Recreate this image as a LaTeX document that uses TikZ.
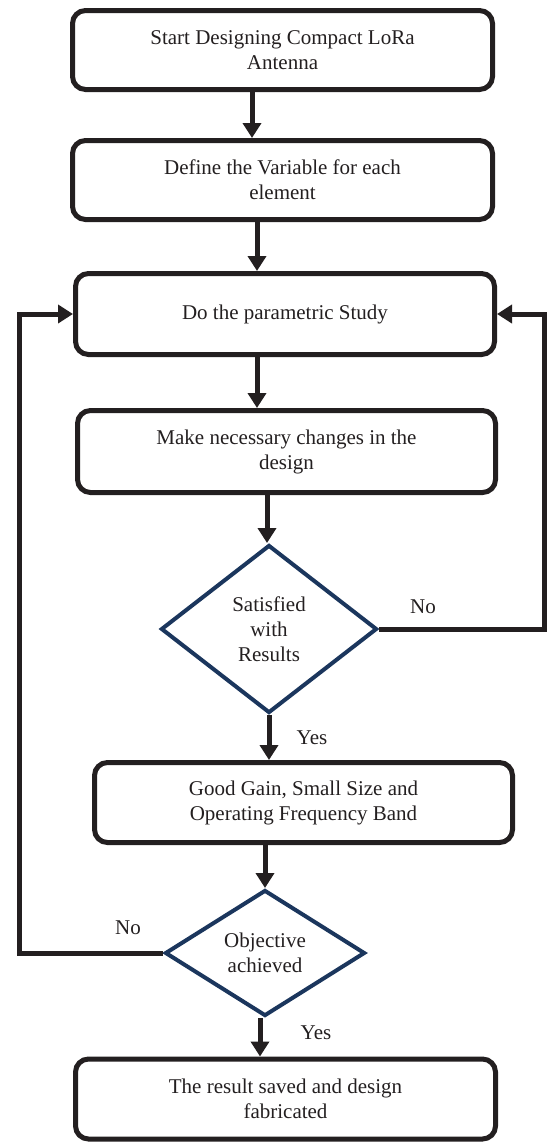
\documentclass[tikz,border=0pt]{standalone}
\usepackage{fontspec}
\setmainfont{Liberation Serif}
\usetikzlibrary{shapes.geometric,arrows.meta}
\definecolor{ink}{HTML}{231F20}
\definecolor{navy}{HTML}{1B365D}
\begin{document}
\begin{tikzpicture}[x=1pt,y=-1pt,
  txt/.style={font=\fontsize{21}{25}\selectfont, text=ink},
  procbox/.style={txt, draw=ink, line width=5pt, rounded corners=13pt, align=center, inner sep=0pt},
  decision/.style={txt, diamond, draw=navy, line width=4pt, align=center, inner sep=0pt, aspect=1.6},
  arr/.style={draw=ink, line width=5pt, line join=miter, -{Triangle[width=18pt,length=15pt]}},
  lbl/.style={txt, anchor=base}]
\useasboundingbox (0,0) rectangle (548,1143);

\node[procbox, minimum width=420, minimum height=79] (b1) at (282.5,50) {Start Designing Compact LoRa\\Antenna};
\node[procbox, minimum width=420, minimum height=79] (b2) at (282.5,180) {Define the Variable for each\\element};
\node[procbox, minimum width=419, minimum height=81] (b3) at (285,314) {Do the parametric Study};
\node[procbox, minimum width=418, minimum height=82] (b4) at (286.5,451.5) {Make necessary changes in the\\design};
\node[decision, minimum width=216, minimum height=168] (d1) at (269,629) {Satisfied\\with\\Results};
\node[procbox, minimum width=418, minimum height=80] (b5) at (303.5,802.5) {Good Gain, Small Size and\\Operating Frequency Band};
\node[decision, minimum width=200, minimum height=126] (d2) at (265,953) {Objective\\achieved};
\node[procbox, minimum width=420, minimum height=80] (b6) at (285.5,1099) {The result saved and design\\fabricated};

\coordinate (x1) at (252,0);
\coordinate (x2) at (257,0);
\coordinate (x4) at (267,0);
\coordinate (x5) at (269,0);
\coordinate (x6) at (265,0);
\coordinate (x7) at (260,0);
\coordinate (lx) at (19,0);
\coordinate (rx) at (544,0);

\draw[arr] (b1.south -| x1) -- (b2.north -| x1);
\draw[arr] (b2.south -| x2) -- (b3.north -| x2);
\draw[arr] (b3.south -| x2) -- (b4.north -| x2);
\draw[arr] (b4.south -| x4) -- (d1.north -| x4);
\draw[arr] (d1.south) -- (b5.north -| x5);
\draw[arr] (b5.south -| x6) -- (d2.north -| x6);
\draw[arr] (d2.south -| x7) -- (b6.north -| x7);

\draw[arr] (d1.east) -- (d1.east -| rx) -- (b3.east -| rx) -- (b3.east);
\draw[arr] (d2.west) -- (d2.west -| lx) -- (b3.west -| lx) -- (b3.west);

\node[lbl] (no1) at (423,613) {No};
\node[lbl] (yes1) at (312,744) {Yes};
\node[lbl] (no2) at (128,934) {No};
\node[lbl] (yes2) at (316,1039) {Yes};
\end{tikzpicture}
\end{document}
